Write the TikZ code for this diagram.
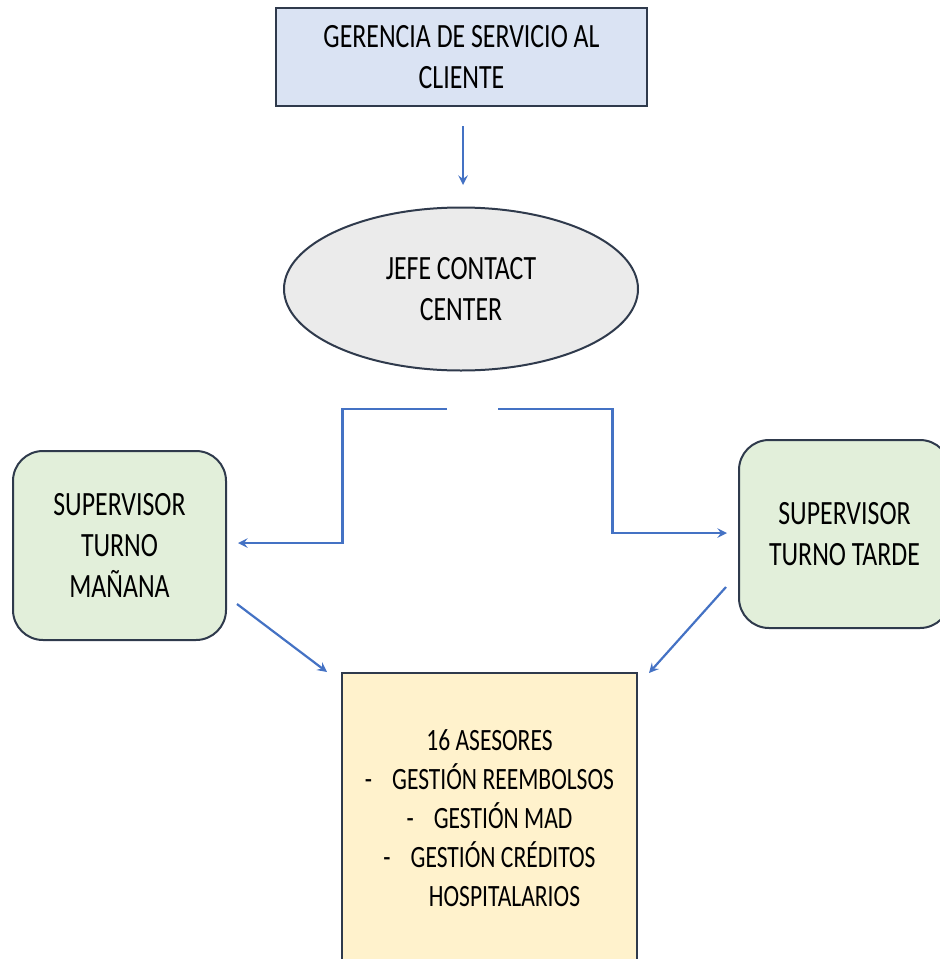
\documentclass[tikz,border=0pt]{standalone}
\usepackage{fontspec}
\setmainfont{Carlito}[FakeStretch=0.76]
\usetikzlibrary{calc,shapes.geometric,positioning}
\definecolor{azulc}{HTML}{DAE3F3}
\definecolor{grisc}{HTML}{EBEBEB}
\definecolor{verdec}{HTML}{E2EFDA}
\definecolor{amarc}{HTML}{FFF2CC}
\definecolor{borde}{HTML}{2F3A4C}
\definecolor{flecha}{HTML}{4472C4}
\tikzset{
  caja/.style={draw=borde,line width=1pt,align=center,inner sep=0pt,
    font=\fontsize{17}{20.5}\selectfont},
  flechita/.style={draw=flecha,line width=1.1pt,->,>=stealth}
}

\begin{document}
\begin{tikzpicture}[x=0.5pt,y=-0.5pt]
  \useasboundingbox (0,0) rectangle (940,959);
  \node[caja,fill=azulc,minimum width=185.5pt,minimum height=49pt] (gerencia) at (461.5,57)
    {GERENCIA DE SERVICIO AL\\CLIENTE};
  \node[caja,ellipse,fill=grisc,minimum width=177pt,minimum height=81.5pt] (jefe) at (461,289)
    {JEFE CONTACT\\CENTER};
  \node[caja,rounded corners=15pt,fill=verdec,minimum width=106.5pt,minimum height=94.5pt] (manana) at (119.5,545.5)
    {SUPERVISOR\\TURNO\\MAÑANA};
  \node[caja,rounded corners=15pt,fill=verdec,minimum width=105.5pt,minimum height=94pt] (tarde) at (844.5,534)
    {SUPERVISOR\\TURNO TARDE};
  \node[caja,fill=amarc,minimum width=147.5pt,minimum height=145pt,
    font=\fontsize{15.5}{19.5}\selectfont] (asesores) at (489.5,818)
    {16 ASESORES\\
     -\hspace{10pt}GESTIÓN REEMBOLSOS\\
     -\hspace{10pt}GESTIÓN MAD\\
     -\hspace{10pt}GESTIÓN CRÉDITOS\\
     \hspace*{15pt}HOSPITALARIOS};
  \coordinate (GJ) at (463,126);
  \coordinate (JG) at (463,185);
  \coordinate (JL) at (447,409);
  \coordinate (JR) at (498,409);
  \coordinate (ML) at (238,543);
  \coordinate (TR) at (727,533);
  \coordinate (MA) at (237,604);
  \coordinate (MB) at (327,672);
  \coordinate (TA) at (726,587);
  \coordinate (TB) at (649,673);
  \draw[flechita] (GJ) -- (JG);
  \draw[flechita] (JL) -| ($(JL)!.5!(ML)$) |- (ML);
  \draw[flechita] (JR) -| ($(JR)!.5!(TR)$) |- (TR);
  \draw[flechita] (MA) -- (MB);
  \draw[flechita] (TA) -- (TB);
\end{tikzpicture}
\end{document}
